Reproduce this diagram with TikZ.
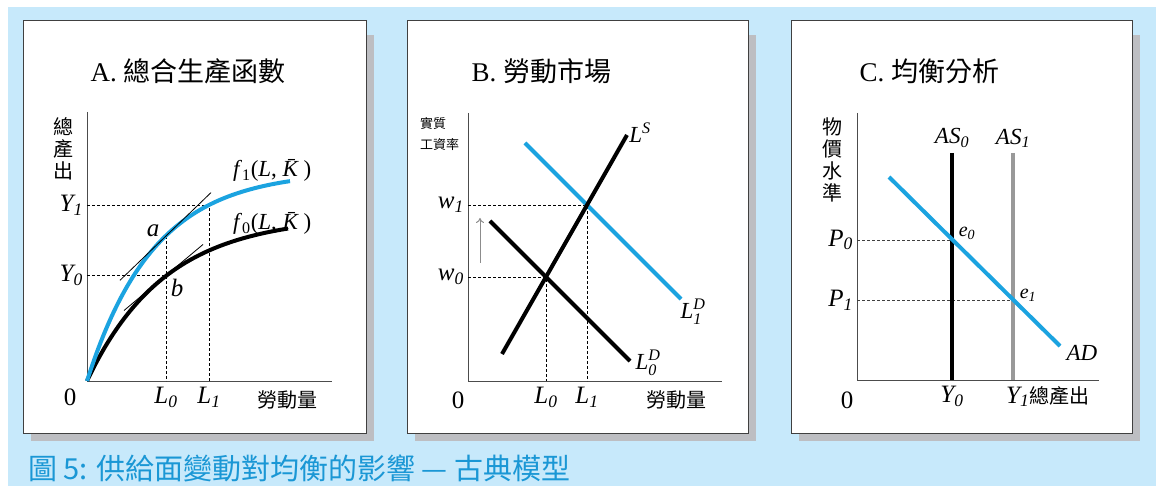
\documentclass[tikz,border=0pt]{standalone}
\usepackage{amsmath}
\usepackage{fontspec}
\setmainfont{Liberation Serif}
\newfontfamily\cjk{Noto Sans CJK TC}
\usetikzlibrary{positioning, arrows.meta, calc}
\definecolor{bgblue}{HTML}{C7E9FB}
\definecolor{lineblue}{HTML}{1BA3E0}
\definecolor{capblue}{HTML}{1A97D5}
\definecolor{shadowgray}{HTML}{BDBEC2}
\tikzset{
    panel/.style={draw=black!75, fill=white, line width=1pt},
    drop/.style={fill=shadowgray, draw=none},
    axis/.style={draw=black!70, line width=0.9pt},
    guide/.style={line width=0.7pt, dash pattern=on 3pt off 2pt},
    heavy/.style={line width=4pt, line cap=butt},
    ptitle/.style={anchor=base west, font=\fontsize{27}{30}\selectfont},
    lab/.style={inner sep=1pt, font=\fontsize{25}{27}\selectfont},
    mid/.style={inner sep=1pt, font=\fontsize{23}{25}\selectfont},
    small/.style={inner sep=1pt, font=\fontsize{20}{22}\selectfont},
    cjklab/.style={inner sep=1pt, align=center, font=\cjk\fontsize{20}{22}\selectfont}
}
\newcommand{\mv}[1]{\textit{#1}}

\begin{document}
\begin{tikzpicture}[x=1pt, y=1pt]
    \useasboundingbox (0,0) rectangle (1156,486);
    \fill[bgblue] (8,0) rectangle (1156,479);
    \foreach \x/\w in {23/343, 407/341, 791/341}{
        \fill[drop] (\x+8,45) rectangle ++(\w,406);
        \draw[panel] (\x,52) rectangle ++(\w,413);
    }
    \begin{scope}[shift={(87,105)}]
        \node[ptitle] (tA) at (0,299) {A. {\cjk 總合生產函數}};
        \coordinate (oA) at (0,0);
        \coordinate (topA) at (0,269);
        \coordinate (endA) at (245,0);
        \draw[axis] (topA) -- (oA) -- (endA);
        \coordinate (a) at (79,145);
        \coordinate (b) at (79,105.5);
        \coordinate (Y1) at (0,176);
        \coordinate (Y0) at (0,105.5);
        \coordinate (L0) at (79,0);
        \coordinate (L1) at (122,0);
        \draw[guide] (Y1) -| (L1);
        \draw[guide] (Y0) -- (b);
        \draw[guide] (a) -- (L0);
        \draw[heavy, black] plot[domain=0:201, samples=60, smooth] (\x, {165*(1-exp(-\x/78))});
        \draw[heavy, lineblue] plot[domain=0:203, samples=60, smooth] (\x, {210*(1-exp(-\x/67))});
        \draw[line width=0.8pt] ($(a)+(-46,-44.3)$) -- ($(a)+(45,43.4)$);
        \draw[line width=0.8pt] ($(b)+(-42,-35)$) -- ($(b)+(37,31)$);
        \node[lab] (la) at (66,150) {\mv{a}};
        \node[lab] (lb) at (90,93) {\mv{b}};
        \node[mid, anchor=base west] (f1) at (145,204) {\mv{f}\textsubscript{1}(\mv{L}, \mv{\=K})};
        \node[mid, anchor=base west] (f0) at (145,151) {\mv{f}\textsubscript{0}(\mv{L}, \mv{\=K})};
        \node[lab, left=3pt of Y1] (tY1) {$\mv{Y}_{\mv{1}}$};
        \node[lab, left=3pt of Y0] (tY0) {$\mv{Y}_{\mv{0}}$};
        \node[lab, below=5pt of L0] (tL0) {$\mv{L}_{\mv{0}}$};
        \node[lab, below=5pt of L1] (tL1) {$\mv{L}_{\mv{1}}$};
        \node[lab] (zA) at (-17,-16) {0};
        \node[cjklab] (qA) at (200,-19) {勞動量};
        \node[cjklab] (vA) at (-24,232) {總\\產\\出};
    \end{scope}
    \begin{scope}[shift={(468,105)}]
        \node[ptitle] (tB) at (0,299) {B. {\cjk 勞動市場}};
        \coordinate (oB) at (0,0);
        \coordinate (topB) at (0,268);
        \coordinate (endB) at (254,0);
        \draw[axis] (topB) -- (oB) -- (endB);
        \coordinate (E0) at (78,104);
        \coordinate (E1) at (119,176);
        \coordinate (w1) at (0,176);
        \coordinate (w0) at (0,104);
        \coordinate (N0) at (78,0);
        \coordinate (N1) at (119,0);
        \draw[guide] (w1) -| (N1);
        \draw[guide] (w0) -| (N0);
        \coordinate (s1) at (34,27);
        \coordinate (s2) at (159,246);
        \coordinate (d1) at (22,160);
        \coordinate (d2) at (162,20);
        \coordinate (u1) at (57,238);
        \coordinate (u2) at (213,82);
        \draw[heavy, lineblue] (u1) -- (u2);
        \draw[heavy, black] (d1) -- (d2);
        \draw[heavy, black] (s1) -- (s2);
        \coordinate (g1) at (12,118);
        \coordinate (g2) at (12,163);
        \draw[black!45, line width=1pt, -{To[length=5pt, width=8pt]}] (g1) -- (g2);
        \node[lab, left=3pt of w1] (tw1) {$\mv{w}_{\mv{1}}$};
        \node[lab, left=3pt of w0] (tw0) {$\mv{w}_{\mv{0}}$};
        \node[lab, below=5pt of N0] (tN0) {$\mv{L}_{\mv{0}}$};
        \node[lab, below=5pt of N1] (tN1) {$\mv{L}_{\mv{1}}$};
        \node[mid] (tS) at (172,248) {$\mv{L}^{\mv{S}}$};
        \node[mid] (tD1) at (225,69) {$\mv{L}^{\mv{D}}_{\mv{1}}$};
        \node[mid] (tD0) at (180,18) {$\mv{L}^{\mv{D}}_{\mv{0}}$};
        \node[lab] (zB) at (-10,-19) {0};
        \node[cjklab] (qB) at (208,-19) {勞動量};
        \node[inner sep=0pt, align=left, anchor=north west, font=\cjk\fontsize{13}{21}\selectfont] (vB) at (-48,264) {實質\\工資率};
    \end{scope}
    \begin{scope}[shift={(857,106)}]
        \node[ptitle] (tC) at (-1,298) {C. {\cjk 均衡分析}};
        \coordinate (oC) at (0,0);
        \coordinate (topC) at (0,267);
        \coordinate (endC) at (242,0);
        \draw[axis] (topC) -- (oC) -- (endC);
        \coordinate (P0) at (0,140);
        \coordinate (P1) at (0,80);
        \coordinate (e0) at (95,140);
        \coordinate (e1) at (156,80);
        \coordinate (as0t) at (95,227);
        \coordinate (as0b) at (95,0);
        \coordinate (as1t) at (156,227);
        \coordinate (as1b) at (156,0);
        \draw[guide, black!75] (P0) -- (e0);
        \draw[guide, black!75] (P1) -- (e1);
        \draw[heavy, black] (as0t) -- (as0b);
        \draw[heavy, black!40] (as1t) -- (as1b);
        \coordinate (ad1) at (32,203);
        \coordinate (ad2) at (203,34);
        \draw[heavy, lineblue] (ad1) -- (ad2);
        \node[mid, above=4pt of as0t] (tAS0) {$\mv{AS}_{\mv{0}}$};
        \node[mid, above=4pt of as1t] (tAS1) {$\mv{AS}_{\mv{1}}$};
        \node[small] (te0) at (110,147) {$\mv{e}_{\mv{0}}$};
        \node[small] (te1) at (171,85) {$\mv{e}_{\mv{1}}$};
        \node[mid] (tAD) at (225,27) {\mv{AD}};
        \node[lab, left=3pt of P0] (tP0) {$\mv{P}_{\mv{0}}$};
        \node[lab, left=3pt of P1] (tP1) {$\mv{P}_{\mv{1}}$};
        \node[lab, below=5pt of as0b] (tY0c) {$\mv{Y}_{\mv{0}}$};
        \node[lab, below=5pt of as1b, anchor=north west, xshift=-8pt] (tY1c) {$\mv{Y}_{\mv{1}}${\cjk\fontsize{20}{22}\selectfont 總產出}};
        \node[lab] (zC) at (-10,-20) {0};
        \node[cjklab] (vC) at (-25,220) {物\\價\\水\\準};
    \end{scope}
    \node[anchor=west, inner sep=0pt, text=capblue, font=\cjk\fontsize{29}{32}\selectfont] (cap) at (28,18) {圖 5: 供給面變動對均衡的影響 — 古典模型};
\end{tikzpicture}
\end{document}
